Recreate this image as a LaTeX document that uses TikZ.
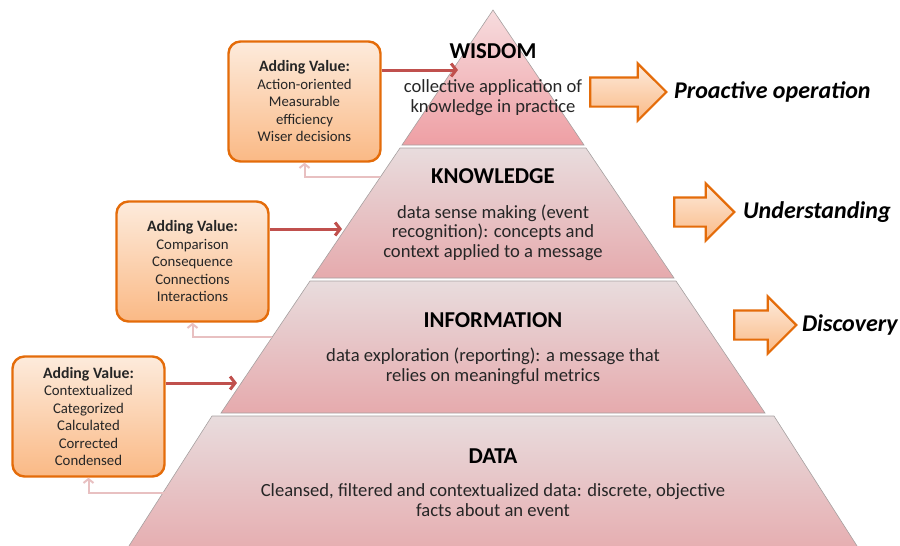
\documentclass[tikz,border=0pt]{standalone}
\usepackage{fontspec}
\setmainfont{Carlito}
\usetikzlibrary{arrows.meta,shapes.arrows,positioning}
\definecolor{layerline}{HTML}{A6A0A0}
\definecolor{layertop}{HTML}{E8DCDD}
\definecolor{layerbot}{HTML}{E6AAAD}
\definecolor{wisetop}{HTML}{F7DCDE}
\definecolor{wisebot}{HTML}{EE9FA4}
\definecolor{boxline}{HTML}{E46C0A}
\definecolor{boxtop}{HTML}{FDEBDC}
\definecolor{boxbot}{HTML}{FAB985}
\definecolor{addred}{HTML}{C0504D}
\definecolor{backpink}{HTML}{E8C0C1}
\definecolor{textgray}{HTML}{262626}

\begin{document}
\begin{tikzpicture}[x=1pt,y=-1pt]
%pixel coordinates, y grows downwards
\tikzstyle{layer}=[draw=layerline, line width=0.6pt, top color=layertop, bottom color=layerbot]
\tikzstyle{title}=[inner sep=0pt, text=black, font=\fontsize{22.7}{26}\selectfont\bfseries]
\tikzstyle{desc}=[inner sep=0pt, align=center, text=textgray, font=\fontsize{18.6}{19.8}\selectfont]
\tikzstyle{valuebox}=[draw=boxline, line width=2.4pt, rounded corners=12pt, top color=boxtop, bottom color=boxbot, minimum width=152pt, minimum height=120pt, inner sep=0pt, align=center, text=textgray, font=\fontsize{14.8}{17.5}\selectfont]
\tikzstyle{addarrow}=[draw=addred, line width=3pt, -{Straight Barb[length=5pt,width=13pt]}]
\tikzstyle{backarrow}=[draw=backpink, line width=2pt, -{Straight Barb[length=4pt,width=10pt]}]
\tikzstyle{bigarrow}=[single arrow, draw=boxline, line width=2.2pt, top color=boxtop, bottom color=boxbot, inner xsep=0pt, inner ysep=13.5pt, single arrow head extend=14pt]
\tikzstyle{outcome}=[inner sep=0pt, anchor=west, font=\fontsize{24}{28}\selectfont\bfseries\itshape]
\newcommand{\valuehead}{{\fontsize{15.8}{17.5}\selectfont\bfseries Adding Value:}}

\useasboundingbox (0,0) rectangle (900,546);

% pyramid layers
\begin{scope}
\clip (0,0) rectangle (900,546);
\path[layer] (212,416) -- (774,416) -- (866,560) -- (120,560) -- cycle;
\end{scope}
\path[layer] (310,281) -- (676,281) -- (765,413) -- (221,413) -- cycle;
\path[layer] (400,148) -- (586,148) -- (674,278) -- (312,278) -- cycle;
\path[draw=layerline, line width=0.6pt, top color=wisetop, bottom color=wisebot] (493,10) -- (584,145) -- (402,145) -- cycle;

% layer texts
\node[title] (wisdom) at (493,51.5) {WISDOM};
\node[desc, below=20pt of wisdom] (wisdomtxt) {collective application of\\knowledge in practice};
\node[title] (knowledge) at (493,176.5) {KNOWLEDGE};
\node[desc, below=20pt of knowledge] (knowledgetxt) {data sense making (event\\recognition): concepts and\\context applied to a message};
\node[title] (information) at (493,320) {INFORMATION};
\node[desc, below=20pt of information] (informationtxt) {data exploration (reporting): a message that\\relies on meaningful metrics};
\node[title] (data) at (493,456) {DATA};
\node[desc, below=20pt of data] (datatxt) {Cleansed, filtered and contextualized data: discrete, objective\\facts about an event};

% adding value boxes
\node[valuebox] (valueW) at (304.5,101.5) {\valuehead\\Action-oriented\\Measurable\\efficiency\\Wiser decisions};
\node[valuebox] (valueK) at (192.5,261.5) {\valuehead\\Comparison\\Consequence\\Connections\\Interactions};
\node[valuebox] (valueI) at (88.5,416.5) {\valuehead\\Contextualized\\Categorized\\Calculated\\Corrected\\Condensed};

% arrows into the layers
\coordinate (inW) at (458,70);
\coordinate (inK) at (342,229);
\coordinate (inI) at (237,383);
\draw[addarrow] (valueW.east |- inW) -- (inW);
\draw[addarrow] (valueK.east |- inK) -- (inK);
\draw[addarrow] (valueI.east |- inI) -- (inI);

% feedback from the layer below
\coordinate (outK) at (380,177);
\coordinate (outI) at (272,337);
\coordinate (outD) at (167,493);
\draw[backarrow] (outK) -| (valueW.south);
\draw[backarrow] (outI) -| (valueK.south);
\draw[backarrow] (outD) -| (valueI.south);

% outcomes
\node[bigarrow, minimum height=76pt] (goW) at (621,92) {};
\node[outcome, right=6pt of goW.tip] (proactive) {Proactive operation};
\node[bigarrow, minimum height=60pt] (goK) at (697,212) {};
\node[outcome, right=7pt of goK.tip] (understanding) {Understanding};
\node[bigarrow, minimum height=62pt] (goI) at (758,325) {};
\node[outcome, right=4pt of goI.tip] (discovery) {Discovery};
\end{tikzpicture}
\end{document}
